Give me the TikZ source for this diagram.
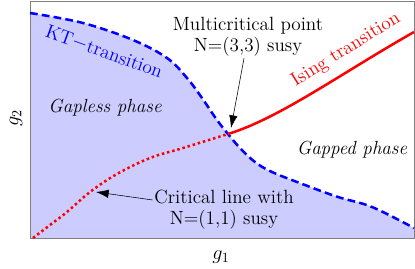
\documentclass[tikz,border=0pt]{standalone}
\usetikzlibrary{arrows.meta}

\newcommand{\ktpts}{(30,13) (83,23) (133,40) (167,58) (187,78) (202,98) (217,120) (228,134) (240,148) (255,162) (272,172) (305,185) (338,197) (372,207) (414,228)}

\begin{document}
\begin{tikzpicture}[x=0.025cm, y=-0.025cm,
    ktline/.style={blue, line width=1.8pt, dash pattern=on 5.5pt off 3pt},
    critline/.style={red, line width=1.8pt, dash pattern=on 1.8pt off 2pt},
    isingline/.style={red, line width=1.8pt},
    pointer/.style={-{Latex[length=9pt, width=6pt]}, thin, black},
    note/.style={align=center, font=\fontsize{13.6}{15}\selectfont, inner sep=1pt},
    phase/.style={font=\fontsize{13.5}{15}\selectfont\itshape}]
    \useasboundingbox (0,0) rectangle (415,269);

    % Phasen und Rahmen
    \fill[blue!20] plot[smooth, tension=0.6] coordinates {\ktpts} -- (414,238) -- (30,238) -- cycle;
    \draw[gray] (30,1) rectangle (414,238);

    % Linien
    \draw[ktline] plot[smooth, tension=0.6] coordinates {\ktpts};
    \draw[critline] plot[smooth, tension=0.6] coordinates {(33,238) (50,225) (67,212) (90,192) (117,174) (150,158) (183,148) (228,134)};
    \draw[isingline] (228,134) .. controls (280,118) and (340,74) .. (414,32);
    \coordinate (multipt) at (231,128);
    \coordinate (critpt) at (96,192);

    % Beschriftungen
    \node (kt) [note, blue, rotate=-20] at (104,52) {KT$-$transition};
    \node (ising) [note, red, rotate=32] at (346,50) {Ising transition};
    \node (gapless) [phase] at (105,108) {Gapless phase};
    \node (gapped) [phase] at (352,150) {Gapped phase};
    \node (multi) [note] at (248,37) {Multicritical point\\N=(3,3) susy};
    \node (crit) [note] at (224,210) {Critical line with\\N=(1,1) susy};
    \node (gtwo) [note, rotate=90] at (16,118) {$g_2$};
    \node (gone) [note] at (221,257) {$g_1$};

    % Pfeile
    \draw[pointer] (multi) -- (multipt);
    \draw[pointer] (crit) -- (critpt);
\end{tikzpicture}
\end{document}
